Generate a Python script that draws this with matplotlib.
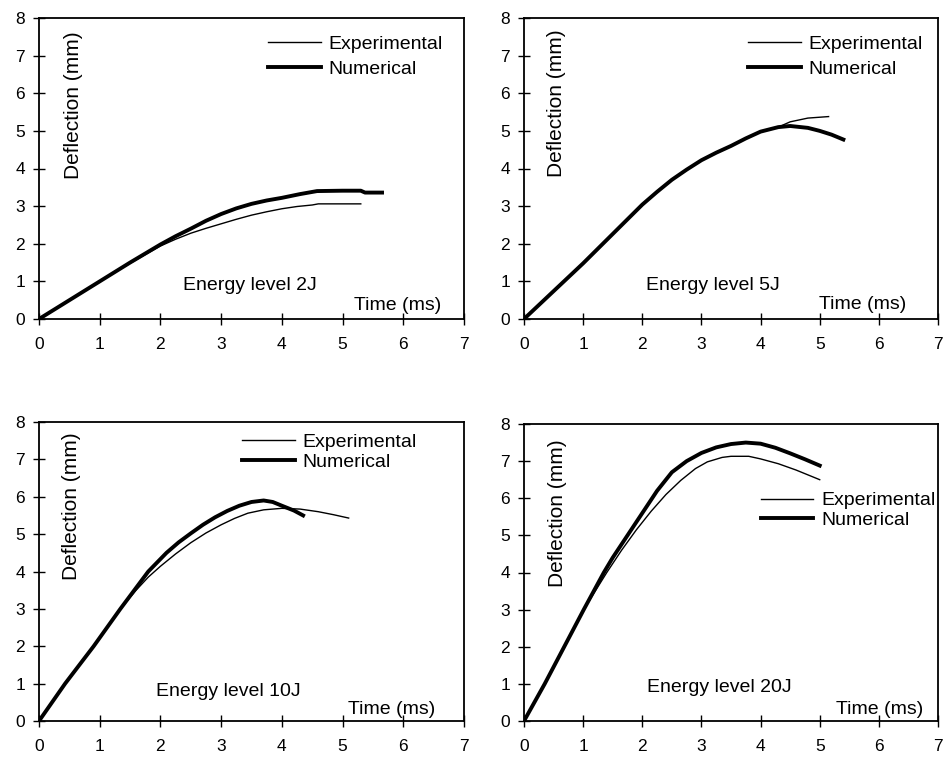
import matplotlib
matplotlib.use("Agg")
import matplotlib.pyplot as plt

plt.rcParams['font.family'] = ['Liberation Sans', 'DejaVu Sans']

# ---- data (time in ms, deflection in mm) ----
t_exp_2J = [0, 0.5, 1.0, 1.5, 2.0, 2.25, 2.5, 2.75, 3.0, 3.25, 3.5, 3.75, 4.0, 4.25, 4.5, 4.6, 5.3]
d_exp_2J = [0, 0.5, 1.0, 1.48, 1.94, 2.12, 2.28, 2.41, 2.53, 2.65, 2.76, 2.85, 2.93, 2.99, 3.03, 3.06, 3.06]
t_num_2J = [0, 0.5, 1.0, 1.5, 2.0, 2.25, 2.5, 2.75, 3.0, 3.25, 3.5, 3.75, 4.0, 4.3, 4.58, 5.0, 5.3, 5.37, 5.65]
d_num_2J = [0, 0.5, 1.0, 1.5, 1.98, 2.2, 2.4, 2.61, 2.79, 2.94, 3.06, 3.15, 3.22, 3.32, 3.4, 3.41, 3.41, 3.36, 3.36]

t_exp_5J = [0, 1.0, 1.5, 2.0, 2.25, 2.5, 2.75, 3.0, 3.25, 3.5, 3.75, 4.0, 4.3, 4.5, 4.8, 5.15]
d_exp_5J = [0, 1.48, 2.26, 3.04, 3.38, 3.7, 3.97, 4.22, 4.42, 4.6, 4.8, 4.98, 5.1, 5.24, 5.34, 5.38]
t_num_5J = [0, 1.0, 1.5, 2.0, 2.25, 2.5, 2.75, 3.0, 3.25, 3.5, 3.75, 4.0, 4.3, 4.5, 4.8, 5.0, 5.2, 5.4]
d_num_5J = [0, 1.48, 2.26, 3.04, 3.38, 3.7, 3.97, 4.22, 4.42, 4.6, 4.8, 4.98, 5.1, 5.13, 5.08, 5.0, 4.9, 4.77]

t_exp_10J = [0, 0.43, 0.9, 1.34, 1.6, 1.8, 2.0, 2.25, 2.5, 2.75, 3.0, 3.22, 3.44, 3.7, 4.0, 4.3, 4.6, 4.85, 5.1]
d_exp_10J = [0, 1.0, 2.0, 3.0, 3.5, 3.85, 4.14, 4.47, 4.77, 5.03, 5.25, 5.42, 5.56, 5.65, 5.69, 5.67, 5.6, 5.52, 5.43]
t_num_10J = [0, 0.43, 0.9, 1.34, 1.57, 1.8, 2.1, 2.3, 2.5, 2.7, 2.9, 3.1, 3.3, 3.5, 3.7, 3.85, 4.0, 4.2, 4.35]
d_num_10J = [0, 1.0, 2.0, 3.0, 3.5, 4.0, 4.5, 4.78, 5.02, 5.25, 5.45, 5.62, 5.76, 5.86, 5.9, 5.86, 5.76, 5.63, 5.5]

t_exp_20J = [0, 0.35, 0.68, 1.01, 1.4, 1.65, 1.9, 2.15, 2.4, 2.65, 2.9, 3.1, 3.35, 3.5, 3.8, 4.0, 4.3, 4.6, 5.0]
d_exp_20J = [0, 1.0, 2.0, 3.0, 4.0, 4.6, 5.15, 5.65, 6.1, 6.48, 6.8, 6.98, 7.1, 7.13, 7.13, 7.06, 6.93, 6.76, 6.5]
t_num_20J = [0, 0.35, 0.68, 1.01, 1.35, 1.5, 1.75, 2.0, 2.25, 2.5, 2.75, 3.0, 3.25, 3.5, 3.75, 4.0, 4.25, 4.5, 4.75, 5.0]
d_num_20J = [0, 1.0, 2.0, 3.0, 4.0, 4.4, 5.0, 5.6, 6.2, 6.7, 7.0, 7.22, 7.37, 7.46, 7.5, 7.47, 7.36, 7.21, 7.05, 6.88]

energy_labels = ["Energy level 2J", "Energy level 5J", "Energy level 10J", "Energy level 20J"]
series_names = ["Experimental", "Numerical"]
x_ticks = [0, 1, 2, 3, 4, 5, 6, 7]
y_ticks = [0, 1, 2, 3, 4, 5, 6, 7, 8]

panels = [
    (t_exp_2J, d_exp_2J, t_num_2J, d_num_2J),
    (t_exp_5J, d_exp_5J, t_num_5J, d_num_5J),
    (t_exp_10J, d_exp_10J, t_num_10J, d_num_10J),
    (t_exp_20J, d_exp_20J, t_num_20J, d_num_20J),
]

# layout (figure fractions)
W, H = 953, 761
rects = [
    (39 / W, 1 - 319 / H, 425 / W, 301 / H),
    (524 / W, 1 - 319 / H, 414 / W, 301 / H),
    (39 / W, 1 - 721 / H, 425 / W, 299 / H),
    (524 / W, 1 - 721 / H, 414 / W, 297 / H),
]
legend_anchor = [(0.539, 0.942), (0.542, 0.942), (0.478, 0.962), (0.572, 0.772)]
legend_spacing = [0.38, 0.38, 0.12, 0.10]
energy_pos = [(3.47, 0.9), (3.2, 0.9), (3.11, 0.78), (3.31, 0.89)]
time_pos = [(5.91, 0.36), (5.73, 0.39), (5.8, 0.32), (6.02, 0.32)]
ylab_pos = [(0.57, 5.69), (0.55, 5.74), (0.54, 5.75), (0.57, 5.6)]

fig = plt.figure(figsize=(W / 100, H / 100), dpi=100)

for i, (te, de, tn, dn) in enumerate(panels):
    ax = fig.add_axes(rects[i])
    ax.plot(te, de, color='black', lw=1.0, label=series_names[0])
    ax.plot(tn, dn, color='black', lw=2.8, label=series_names[1])
    ax.set_xlim(0, 7)
    ax.set_ylim(0, 8)
    ax.set_xticks(x_ticks)
    ax.set_yticks(y_ticks)
    ax.tick_params(direction='inout', length=8, width=1, labelsize=12.5, color='black')
    ax.tick_params(axis='x', pad=9)
    ax.tick_params(axis='y', pad=6)
    for s in ax.spines.values():
        s.set_linewidth(1.3)
        s.set_color('black')
    ax.text(*energy_pos[i], energy_labels[i], fontsize=14, ha='center', va='center')
    ax.text(*time_pos[i], "Time (ms)", fontsize=14, ha='center', va='center')
    ax.text(*ylab_pos[i], "Deflection (mm)", fontsize=15, ha='center', va='center', rotation=90)
    ax.legend(loc='upper left', bbox_to_anchor=legend_anchor[i], frameon=False,
              fontsize=14, handlelength=2.7, handletextpad=0.4,
              labelspacing=legend_spacing[i], borderaxespad=0, borderpad=0)

fig.savefig("out.png", dpi=100)
